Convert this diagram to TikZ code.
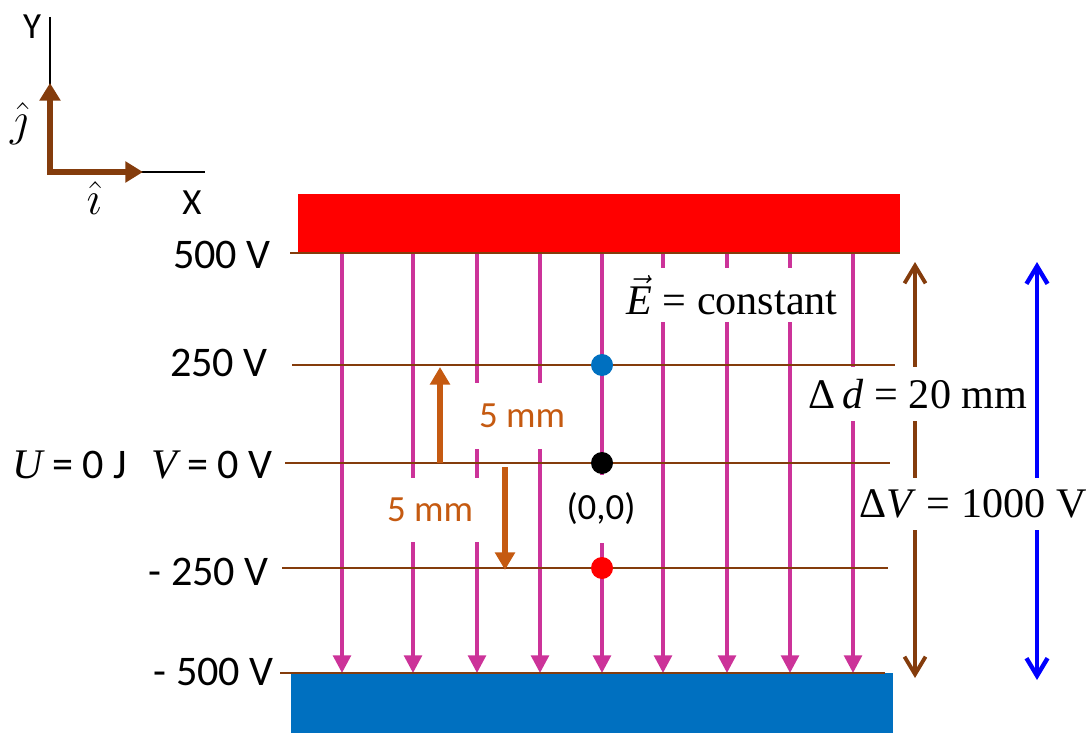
\documentclass[tikz,border=0pt]{standalone}
\usepackage{fix-cm}
\usepackage{fontspec}
\setmainfont{Carlito}
\newfontfamily\serif{Liberation Serif}
\usetikzlibrary{arrows.meta}
\definecolor{pred}{HTML}{FF0000}
\definecolor{pblue}{HTML}{0070C0}
\definecolor{fmag}{HTML}{CC3399}
\definecolor{ebrown}{HTML}{843C0C}
\definecolor{sorange}{HTML}{C55A11}
\definecolor{dblue}{HTML}{0000FF}
\tikzset{
  fline/.style={fmag, line width=2.1pt, -{Triangle[length=10pt,width=10pt]}},
  eqline/.style={ebrown, line width=1.6pt},
  steparr/.style={sorange, line width=3.8pt, -{Triangle[length=10pt,width=11pt]}},
  unitarr/.style={ebrown, line width=3.8pt, -{Triangle[length=10pt,width=11.5pt]}},
  spanarr/.style={line width=2.2pt, {Straight Barb[length=10pt,width=12pt]}-{Straight Barb[length=10pt,width=12pt]}},
  gapbox/.style={fill=white, inner sep=0pt},
  vlab/.style={anchor=east, inner sep=0pt, font=\fontsize{24}{28}\selectfont},
  chargedot/.style={circle, inner sep=0pt, minimum size=0.44cm},
}
\begin{document}
\begin{tikzpicture}[x=0.02cm, y=-0.02cm,
    axlab/.style={inner sep=0pt, font=\fontsize{21}{25}\selectfont},
    serlab/.style={gapbox, font=\serif\fontsize{24}{28}\selectfont},
    mmlab/.style={gapbox, text=sorange, font=\fontsize{21}{25}\selectfont}
  ]
  \useasboundingbox (0,0) rectangle (1091,733);

  % Axes and unit vectors
  \coordinate (o) at (50,172);
  \coordinate (ytop) at (50,17);
  \coordinate (xend) at (205,172);
  \draw[line width=1.5pt] (ytop) -- (o) -- (xend);
  \coordinate (jtip) at (50,83);
  \coordinate (itip) at (143,172);
  \draw[unitarr, line cap=rect] (o) -- (jtip);
  \draw[unitarr, line cap=rect] (o) -- (itip);
  \node[axlab] (ylab) at (32,27) {Y};
  \node[axlab] (xlab) at (192,203) {X};
  \node[inner sep=0pt, font=\fontsize{27}{30}\selectfont] (jhat) at (19,124) {$\hat{\jmath}$};
  \node[inner sep=0pt, font=\fontsize{27}{30}\selectfont] (ihat) at (94,198) {$\hat{\imath}$};

  % Plates
  \fill[pred] (298,194) rectangle (900,253);
  \fill[pblue] (291,673) rectangle (893,733);

  % Field lines
  \foreach \x in {342,413,477,540,602,663,727,790,853}
    \draw[fline] (\x,253) -- (\x,673);

  % Spacing and potential difference
  \coordinate (dtop) at (915,262);
  \coordinate (dbot) at (915,678);
  \coordinate (vtop) at (1037,262);
  \coordinate (vbot) at (1037,680);
  \draw[spanarr, ebrown] (dtop) -- (dbot);
  \draw[spanarr, dblue, line width=2.5pt] (vtop) -- (vbot);

  % Labels
  \node[serlab, minimum width=4.56cm, minimum height=1.08cm] (efield) at (732,295) {$\vec{\mbox{\itshape E}}$ = constant};
  \node[serlab, minimum width=4.48cm, minimum height=1.1cm] (dlab) at (918,394) {Δ\,\textit{d} = 20 mm};
  \node[serlab, minimum width=4.66cm, minimum height=1.04cm] (vlab) at (973,504) {Δ\textit{V} = 1000 V};
  \node[mmlab, minimum width=2.1cm, minimum height=1.32cm] (mmup) at (522,416) {5 mm};
  \node[mmlab, minimum width=2.16cm, minimum height=1.3cm] (mmdown) at (430,510) {5 mm};
  \node[gapbox, minimum width=1.52cm, minimum height=1.36cm, font=\fontsize{21}{25}\selectfont] (orig) at (601,509) {(0,0)};

  % Equipotential lines
  \draw[eqline] (290,253) -- (900,253);
  \draw[eqline] (292,365) -- (895,365);
  \draw[eqline] (285,463) -- (890,463);
  \draw[eqline] (282,568) -- (888,568);
  \draw[eqline] (280,673) -- (885,673);

  \node[vlab] (v500) at (271,255) {500 V};
  \node[vlab] (v250) at (268,363) {250 V};
  \node[vlab] (v0) at (273,465) {{\serif\itshape V} = 0 V};
  \node[vlab, anchor=west] (u0) at (12,465) {{\serif\itshape U} = 0 J};
  \node[vlab] (vm250) at (269,572) {- 250 V};
  \node[vlab] (vm500) at (274,672) {- 500 V};

  % Steps of 5 mm
  \coordinate (upfrom) at (440,463);
  \coordinate (upto) at (440,367);
  \coordinate (downfrom) at (505,467);
  \coordinate (downto) at (505,570);
  \draw[steparr] (upfrom) -- (upto);
  \draw[steparr] (downfrom) -- (downto);

  % Charges
  \node[chargedot, fill=pblue] (qplus) at (602,365) {};
  \node[chargedot, fill=black] (qzero) at (602,463) {};
  \node[chargedot, fill=pred] (qminus) at (602,568) {};
\end{tikzpicture}
\end{document}
